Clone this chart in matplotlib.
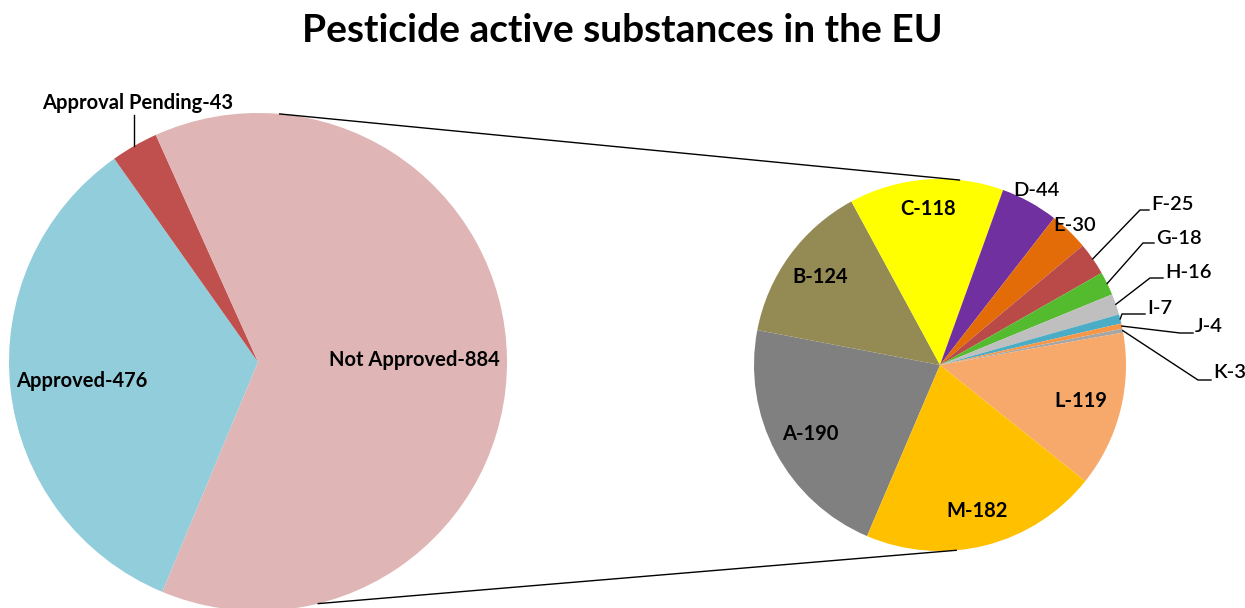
import numpy as np
import matplotlib.pyplot as plt

plt.rcParams['font.family'] = ['Lato', 'DejaVu Sans']

# main pie: status of active substances
main_labels = ["Approved", "Approval Pending", "Not Approved"]
main_values = [476, 43, 884]
main_colors = ["#92CDDC", "#C0504D", "#DFB5B5"]

# breakdown of the not approved group
sub_labels = ["A", "B", "C", "D", "E", "F", "G", "H", "I", "J", "K", "L", "M"]
sub_values = [190, 124, 118, 44, 30, 25, 18, 16, 7, 4, 3, 119, 182]
sub_colors = ["#808080", "#948A54", "#FFFF00", "#7030A0", "#E36C09", "#B94A48",
              "#55BB2E", "#BFBFBF", "#4BACC6", "#F79646", "#A6A6A6", "#F7A96C",
              "#FFC000"]

W, H = 1245, 608
fig = plt.figure(figsize=(W / 100, H / 100), dpi=100)
ax = fig.add_axes([0, 0, 1, 1])
ax.set_xlim(0, W)
ax.set_ylim(0, H)
ax.set_aspect('equal')
ax.axis('off')

c1, r1 = (258, 246), 249
c2, r2 = (940, 243), 186

w1, _ = ax.pie(main_values, colors=main_colors, startangle=247.4, counterclock=False,
               center=c1, radius=r1, wedgeprops=dict(linewidth=0))
w2, _ = ax.pie(sub_values, colors=sub_colors, startangle=246.9, counterclock=False,
               center=c2, radius=r2, wedgeprops=dict(linewidth=0, edgecolor='none'))
ax.set_xlim(0, W)
ax.set_ylim(0, H)


def mid(w):
    return np.deg2rad((w.theta1 + w.theta2) / 2)


def polar(c, r, a):
    return c[0] + r * np.cos(a), c[1] + r * np.sin(a)


# connector lines between the two pies
for a_left, a_right in [(85, 84), (284, 275)]:
    p = polar(c1, r1, np.deg2rad(a_left))
    q = polar(c2, r2, np.deg2rad(a_right))
    ax.plot([p[0], q[0]], [p[1], q[1]], color='black', lw=1.0)

FS = 14.5
lab_font = dict(fontsize=FS, fontweight='bold', ha='center', va='center')

# labels on the main pie
for w, name, val, f in zip(w1, main_labels, main_values, [0.71, None, 0.63]):
    if f is None:
        continue
    x, y = polar(c1, r1 * f, mid(w))
    ax.text(x, y, f"{name}-{val}", **lab_font)

# pending slice gets a leader line
px, py = polar(c1, r1, mid(w1[1]))
ax.plot([px, px], [py, H - 115], color='black', lw=1.0)
ax.text(138, H - 103, f"{main_labels[1]}-{main_values[1]}", **lab_font)

# inside labels of the breakdown pie
inside = {"A": 0.79, "B": 0.80, "C": 0.84, "L": 0.78, "M": 0.81}
for w, name, val in zip(w2, sub_labels, sub_values):
    if name in inside:
        x, y = polar(c2, r2 * inside[name], mid(w))
        ax.text(x, y, f"{name}-{val}", **lab_font)

small_font = dict(fontsize=FS, fontweight='semibold', ha='left', va='center')
# D and E sit just outside the rim
for name, r in [("D", 1.07), ("E", 1.04)]:
    i = sub_labels.index(name)
    x, y = polar(c2, r2 * r, mid(w2[i]))
    ax.text(x, y, f"{name}-{sub_values[i]}", fontsize=FS, fontweight='semibold',
            ha='center', va='center')

# thin slices use elbow leaders: (elbow x, elbow y, text x, text y)
leaders = {"F": (1140, 210, 1151, 205), "G": (1143, 243, 1156, 239),
           "H": (1150, 278, 1165, 273), "I": (1122, 314, 1147, 308),
           "J": (1180, 333, 1195, 327), "K": (1198, 380, 1213, 373)}
for name, (ex, ey, tx, ty) in leaders.items():
    i = sub_labels.index(name)
    sx, sy = polar(c2, r2, mid(w2[i]))
    ax.plot([sx, ex, tx - 2], [sy, H - ey, H - ey], color='black', lw=1.0)
    ax.text(tx, H - ty, f"{name}-{sub_values[i]}", **small_font)

fig.text(0.5, 1 - 31 / H, "Pesticide active substances in the EU", fontsize=28,
         fontweight='bold', ha='center', va='center')

fig.savefig("out.png", dpi=100)
